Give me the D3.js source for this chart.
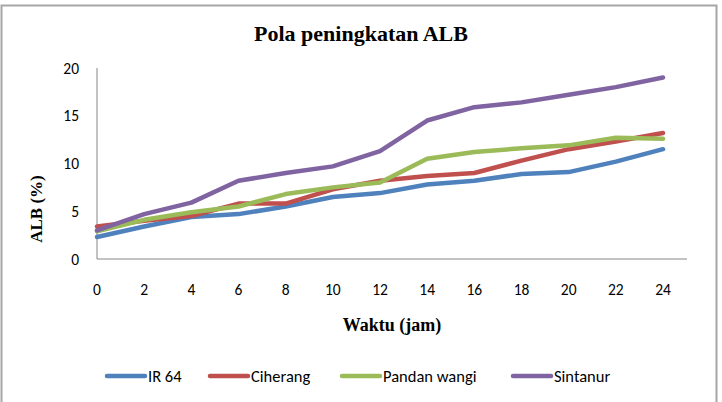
<!DOCTYPE html>
<html><head><meta charset="utf-8">
<script src="https://cdn.jsdelivr.net/npm/d3@7"></script>
<style>body{margin:0;background:#fff}</style>
</head><body>
<script>
const hours = [0,2,4,6,8,10,12,14,16,18,20,22,24];
const yTicks = [0,5,10,15,20];
const seriesNames = ["IR 64","Ciherang","Pandan wangi","Sintanur"];
const ir64 =      [2.3,3.4,4.4,4.7,5.5,6.5,6.9,7.8,8.2,8.9,9.1,10.2,11.5];
const ciherang =  [3.4,4.0,4.5,5.8,5.8,7.3,8.2,8.7,9.0,10.3,11.5,12.3,13.2];
const pandan =    [2.9,4.1,4.9,5.5,6.8,7.5,8.0,10.5,11.2,11.6,11.9,12.7,12.6];
const sintanur =  [3.0,4.7,5.9,8.2,9.0,9.7,11.3,14.5,15.9,16.4,17.2,18.0,19.0];
const colors = ["#4F81BD","#C0504D","#9BBB59","#8064A2"];
const allSeries = [ir64, ciherang, pandan, sintanur];

const W = 722, H = 402;
const svg = d3.select("body").append("svg").attr("width", W).attr("height", H);
svg.append("rect").attr("x",0).attr("y",0).attr("width",W).attr("height",H).attr("fill","#fff");
svg.append("path").attr("d","M1.5,402 L1.5,5.5 L716.5,5.5 L716.5,402")
  .attr("fill","none").attr("stroke","#a6a6a6").attr("stroke-width",2);

const x0 = 97, x1 = 663;
const x = d3.scaleLinear().domain([0,24]).range([x0,x1]);
const y = d3.scaleLinear().domain([0,20]).range([259,68]);
const serif = "'Liberation Serif', 'Times New Roman', serif";
const sans = "Carlito, Calibri, Lato, sans-serif";

svg.append("text").attr("x",361).attr("y",41).attr("text-anchor","middle")
  .attr("font-family",serif).attr("font-weight","bold")
  .attr("font-size",22).text("Pola peningkatan ALB");

svg.append("line").attr("x1",x0).attr("x2",x0).attr("y1",y(20)).attr("y2",y(0)).attr("stroke","#868686").attr("stroke-width",1);
svg.append("line").attr("x1",x0).attr("x2",687).attr("y1",y(0)).attr("y2",y(0)).attr("stroke","#868686").attr("stroke-width",1);

svg.append("g").selectAll("text").data(yTicks).join("text")
  .attr("x",79).attr("y",d=>y(d)).attr("dy","0.36em").attr("text-anchor","end")
  .attr("font-family",sans).attr("font-size",15.5).attr("fill","#000").text(d=>d);
svg.append("g").selectAll("text").data(hours).join("text")
  .attr("x",d=>x(d)).attr("y",289).attr("dy","0.36em").attr("text-anchor","middle")
  .attr("font-family",sans).attr("font-size",15.5).attr("fill","#000").text(d=>d);

svg.append("text").attr("x",392).attr("y",331).attr("text-anchor","middle")
  .attr("font-family",serif).attr("font-weight","bold")
  .attr("font-size",18).text("Waktu (jam)");
svg.append("text").attr("transform","translate(42,209) rotate(-90)").attr("text-anchor","middle")
  .attr("font-family",serif).attr("font-weight","bold")
  .attr("font-size",17).text("ALB (%)");

const line = d3.line().x((d,i)=>x(hours[i])).y(d=>y(d));
allSeries.forEach((s,k)=>{
  svg.append("path").datum(s).attr("d",line).attr("fill","none")
    .attr("stroke",colors[k]).attr("stroke-width",4.5).attr("stroke-linejoin","round").attr("stroke-linecap","round");
});

const legX = [107, 210, 342, 513];
const lg = svg.append("g");
seriesNames.forEach((n,k)=>{
  lg.append("line").attr("x1",legX[k]).attr("x2",legX[k]+38).attr("y1",376).attr("y2",376)
    .attr("stroke",colors[k]).attr("stroke-width",4.5).attr("stroke-linecap","round");
  lg.append("text").attr("x",legX[k]+41).attr("y",376).attr("dy","0.36em")
    .attr("font-family",sans).attr("font-size",16.5).text(n);
});
</script>
</body></html>
